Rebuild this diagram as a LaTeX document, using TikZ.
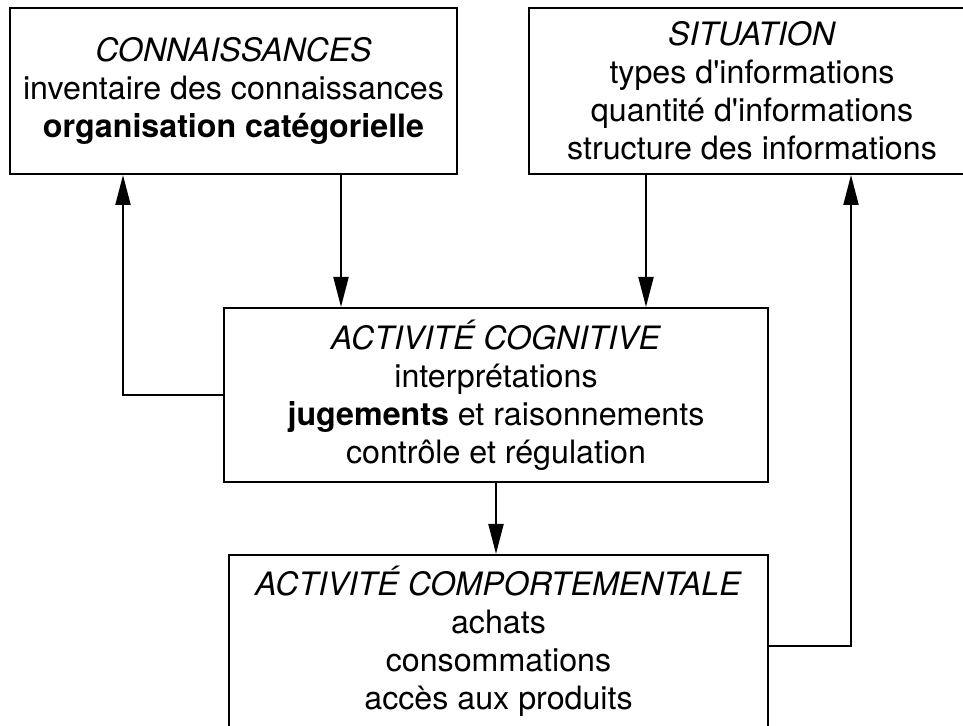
\documentclass[tikz,border=0pt]{standalone}
\usepackage{fontspec}
\setmainfont{TeX Gyre Heros}
\usepackage{tikz}
\usetikzlibrary{calc}
\usetikzlibrary{arrows.meta}
\tikzset{box/.style={shape=rectangle, draw=black, align=center, inner sep=0pt, font=\fontsize{16.1}{19}\selectfont}}
\tikzset{>={Triangle[length=15pt,width=7.5pt]}}

\begin{document}
\begin{tikzpicture}[x=0.5pt,y=-0.5pt,line width=1pt]
		\useasboundingbox (0,0) rectangle (963,726);
		\clip (0,0) rectangle (963,726);
		\node[box, minimum width=223.5pt, minimum height=83pt] (conn) at (233.5,91) {\textit{CONNAISSANCES}\\inventaire des connaissances\\\textbf{organisation catégorielle}};
		\node[box, minimum width=223pt, minimum height=83pt] (sit) at (752,91) {\textit{SITUATION}\\types d\textquotesingle informations\\quantité d\textquotesingle informations\\structure des informations};
		\node[box, minimum width=272pt, minimum height=87pt] (cog) at (496,395) {\textit{ACTIVITÉ COGNITIVE}\\interprétations\\\textbf{jugements} et raisonnements\\contrôle et régulation};
		\node[box, minimum width=269.5pt, minimum height=86.5pt] (comp) at (498.5,641.5) {\textit{ACTIVITÉ COMPORTEMENTALE}\\achats\\consommations\\accès aux produits};
		\draw [->] ($(conn.south)+(107.5,0)$) coordinate (c1) -- (c1 |- cog.north);
		\draw [->] ($(sit.south)+(-106,0)$) coordinate (s1) -- (s1 |- cog.north);
		\draw [->] (cog.west) -| ($(conn.south)+(-110.5,0)$);
		\draw [->] (cog.south) -- (cog.south |- comp.north);
		\draw [->] ($(comp.east)+(0,4.5)$) -| ($(sit.south)+(99,0)$);
	\end{tikzpicture}
\end{document}
